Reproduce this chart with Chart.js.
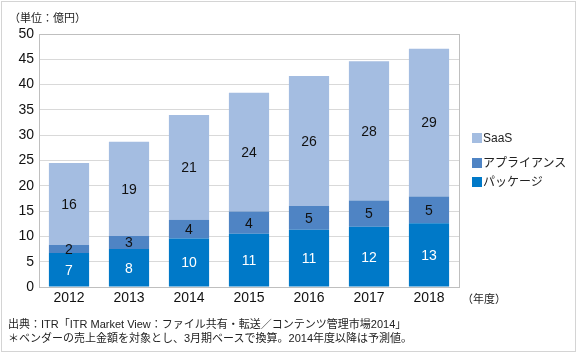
<!DOCTYPE html>
<html>
<head>
<meta charset="utf-8">
<script src="https://cdn.jsdelivr.net/npm/chart.js@4"></script>
<style>
  body { margin: 0; background: #fff; font-family: "Liberation Sans", "Noto Sans CJK JP", sans-serif; }
  #wrap { position: relative; width: 577px; height: 353px; }
  #frame { position: absolute; left: 1px; top: 1px; width: 573px; height: 349px; border: 1px solid #d4d4d4; pointer-events: none; }
  .txt { position: absolute; font-size: 11px; color: #222; white-space: nowrap; }
  .leg { position: absolute; left: 472px; font-size: 12px; color: #222; }
  .leg span { display: inline-block; width: 10px; height: 10px; margin-right: 1px; vertical-align: -1px; }
</style>
</head>
<body>
<div id="wrap">
  <canvas id="c" width="577" height="353"></canvas>
  <div id="frame"></div>
  <div class="txt" style="left:9px;top:9px;">（単位：億円）</div>
  <div class="txt" style="left:462px;top:290px;">（年度）</div>
  <div class="leg" style="top:131px;"><span style="background:#a4bde1"></span>SaaS</div>
  <div class="leg" style="top:153px;"><span style="background:#4f84c4"></span>アプライアンス</div>
  <div class="leg" style="top:172px;"><span style="background:#0079c8"></span>パッケージ</div>
  <div class="txt" style="left:8px;top:315px;">出典：ITR「ITR Market View：ファイル共有・転送／コンテンツ管理市場2014」</div>
  <div class="txt" style="left:8px;top:329px;">＊ベンダーの売上金額を対象とし、3月期ベースで換算。2014年度以降は予測値。</div>
</div>
<script>
const years = ['2012', '2013', '2014', '2015', '2016', '2017', '2018'];
const packageVals = [6.7, 7.5, 9.6, 10.5, 11.3, 11.9, 12.6];
const applianceVals = [1.6, 2.6, 3.7, 4.4, 4.7, 5.2, 5.3];
const saasVals = [16.2, 18.6, 20.7, 23.5, 25.7, 27.5, 29.2];
const yTicks = [0, 5, 10, 15, 20, 25, 30, 35, 40, 45, 50];

// 各セグメントの中央に四捨五入した値を描く
const segLabels = {
    id: 'segLabels',
    afterDatasetsDraw(chart) {
        const ctx = chart.ctx;
        ctx.save();
        ctx.font = '14px "Liberation Sans", Arial, sans-serif';
        ctx.textAlign = 'center';
        ctx.textBaseline = 'middle';
        chart.data.datasets.forEach(function(ds, i) {
            chart.getDatasetMeta(i).data.forEach(function(bar, j) {
                ctx.fillStyle = ds.labelColor;
                ctx.fillText(Math.round(ds.data[j]), bar.x, (bar.y + bar.base) / 2 + 1);
            });
        });
        ctx.restore();
    }
};

// プロットエリアの枠
const plotBorder = {
    id: 'plotBorder',
    beforeDatasetsDraw(chart) {
        const a = chart.chartArea;
        const ctx = chart.ctx;
        ctx.save();
        ctx.strokeStyle = '#bfbfbf';
        ctx.lineWidth = 1;
        ctx.strokeRect(Math.round(a.left) + 0.5, Math.round(a.top) + 0.5, Math.round(a.right - a.left), Math.round(a.bottom - a.top));
        ctx.restore();
    }
};

new Chart(document.getElementById('c'), {
    type: 'bar',
    data: {
        labels: years,
        datasets: [
            { label: 'パッケージ', data: packageVals, backgroundColor: '#0079c8', labelColor: '#ffffff' },
            { label: 'アプライアンス', data: applianceVals, backgroundColor: '#4f84c4', labelColor: '#111111' },
            { label: 'SaaS', data: saasVals, backgroundColor: '#a4bde1', labelColor: '#111111' }
        ]
    },
    options: {
        responsive: false,
        animation: false,
        layout: { padding: { left: 0, top: 34, right: 118, bottom: 46 } },
        datasets: { bar: { barPercentage: 0.67, categoryPercentage: 1 } },
        plugins: { legend: { display: false }, tooltip: { enabled: false } },
        scales: {
            x: {
                stacked: true,
                grid: { display: false, drawTicks: false },
                border: { color: '#bfbfbf' },
                ticks: { color: '#111', font: { size: 14, family: '"Liberation Sans", Arial' }, padding: 3 },
                afterFit: function(s) { s.height = 20; }
            },
            y: {
                stacked: true,
                min: 0, max: 50,
                afterBuildTicks: function(s) { s.ticks = yTicks.map(function(v) { return { value: v }; }); },
                grid: { color: '#d9d9d9', drawTicks: false },
                border: { color: '#bfbfbf' },
                ticks: { color: '#111', font: { size: 14, family: '"Liberation Sans", Arial' }, padding: 5 },
                afterFit: function(s) { s.width = 39; }
            }
        }
    },
    plugins: [plotBorder, segLabels]
});
</script>
</body>
</html>
